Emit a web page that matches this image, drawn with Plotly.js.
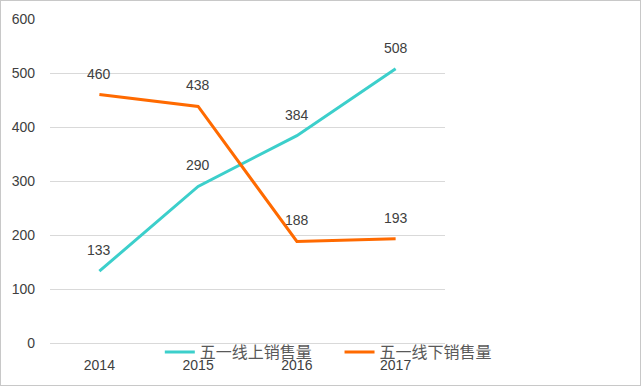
<!DOCTYPE html>
<html>
<head>
<meta charset="utf-8">
<script src="https://cdn.plot.ly/plotly-3.0.1.min.js"></script>
<style>
  html, body { margin: 0; padding: 0; background: #fff; }
  #wrap { position: relative; width: 641px; height: 386px; }
  #chart { position: absolute; left: 0; top: 0; width: 641px; height: 386px; }
  #frame { position: absolute; left: 0; top: 0; width: 641px; height: 386px; box-sizing: border-box; border: 1px solid #c8c8c8; pointer-events: none; }
</style>
</head>
<body>
<div id="wrap"><div id="chart"></div><div id="frame"></div></div>
<script>
const years = ['2014', '2015', '2016', '2017'];
const onlineName = '五一线上销售量';
const offlineName = '五一线下销售量';
const online = [133, 290, 384, 508];
const offline = [460, 438, 188, 193];

const idx = years.map((_, i) => i);
const tickFont = { family: 'Liberation Sans, Arial, sans-serif', size: 14, color: '#404040' };
const legendFont = { family: 'Noto Sans CJK SC, sans-serif', size: 16, color: '#595959' };

const traces = [
  { x: idx, y: online, name: onlineName, type: 'scatter', mode: 'lines',
    line: { color: '#3ccfcb', width: 3 }, legend: 'legend' },
  { x: idx, y: offline, name: offlineName, type: 'scatter', mode: 'lines',
    line: { color: '#ff6a00', width: 3 }, legend: 'legend2' }
];

const annotations = [];
[online, offline].forEach(series => {
  series.forEach((v, i) => {
    annotations.push({ x: idx[i], y: v, xref: 'x', yref: 'y', text: String(v), showarrow: false,
      yshift: 21, font: tickFont });
  });
});

const legBase = { orientation: 'h', xanchor: 'left', yanchor: 'middle', y: -0.028,
  bgcolor: 'rgba(0,0,0,0)', font: legendFont, borderwidth: 0 };

const layout = {
  width: 641, height: 386,
  margin: { l: 50, r: 196, t: 19, b: 43, autoexpand: false },
  paper_bgcolor: '#ffffff', plot_bgcolor: '#ffffff',
  showlegend: true,
  legend: Object.assign({}, legBase, { x: 0.278 }),
  legend2: Object.assign({}, legBase, { x: 0.733 }),
  xaxis: { range: [-0.5, 3.5], tickvals: idx, ticktext: years, showgrid: false, showline: false,
    zeroline: false, ticks: '', tickfont: tickFont, ticklabelstandoff: 12, fixedrange: true },
  yaxis: { range: [0, 600], dtick: 100, showgrid: true, gridcolor: '#d9d9d9', gridwidth: 1,
    zeroline: true, zerolinecolor: '#d9d9d9', zerolinewidth: 1, showline: false,
    ticks: '', tickfont: tickFont, ticklabelstandoff: 14, fixedrange: true },
  annotations: annotations
};

Plotly.newPlot('chart', traces, layout, { displayModeBar: false, staticPlot: true });
</script>
</body>
</html>
